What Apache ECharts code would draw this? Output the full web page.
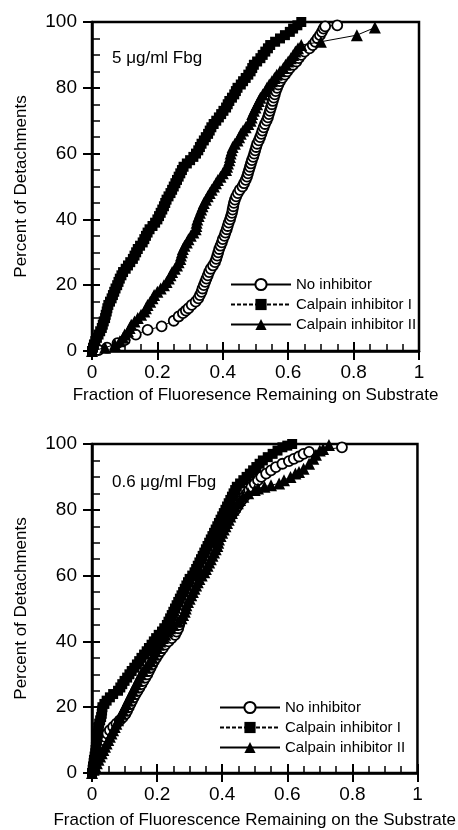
<!DOCTYPE html>
<html><head><meta charset="utf-8">
<script src="https://cdn.jsdelivr.net/npm/echarts/dist/echarts.min.js"></script>
<style>html,body{margin:0;padding:0;background:#fff}#c{width:458px;height:830px}</style>
</head><body><div id="c"></div><script>
// ---- data (x = fraction of fluorescence remaining, y = percent of detachments) ----
var seriesNames = ['No inhibitor', 'Calpain inhibitor I', 'Calpain inhibitor II'];
var panelLabels = ['5 \u03bcg/ml Fbg', '0.6 \u03bcg/ml Fbg'];
var xTitles = ['Fraction of Fluoresence Remaining on Substrate', 'Fraction of Fluorescence Remaining on the Substrate'];
var yTitle = 'Percent of Detachments';
var xTickValues = [0, 0.2, 0.4, 0.6, 0.8, 1];
var yTickValues = [0, 20, 40, 60, 80, 100];

// top panel: 5 ug/ml Fbg
var topNoInhibitor = [[0.02,0.3],[0.046,1],[0.078,2.4],[0.10,3.3],[0.134,5],[0.17,6.4],[0.213,7.5],[0.25,9.2],[0.265,10.5],[0.278,11.5],[0.287,12.3],[0.295,13],[0.305,14],[0.317,15],[0.325,16],[0.33,17],[0.335,18],[0.338,19],[0.342,20],[0.346,21],[0.35,22],[0.354,23],[0.358,24],[0.363,25],[0.37,26],[0.376,27],[0.38,28],[0.383,29],[0.386,30],[0.389,31],[0.393,32],[0.397,33],[0.40,34],[0.405,35],[0.408,36],[0.412,37],[0.415,38],[0.418,39],[0.422,40],[0.425,41],[0.428,42],[0.43,43],[0.432,44],[0.434,45],[0.437,46],[0.441,47],[0.446,48],[0.452,49],[0.46,50],[0.465,51],[0.47,52],[0.474,53],[0.477,54],[0.48,55],[0.483,56],[0.486,57],[0.489,58],[0.493,59],[0.496,60],[0.499,61],[0.502,62],[0.505,63],[0.51,64],[0.514,65],[0.518,66],[0.521,67],[0.525,68],[0.529,69],[0.534,70],[0.538,71],[0.541,72],[0.544,73],[0.547,74],[0.55,75],[0.553,76],[0.556,77],[0.559,78],[0.562,79],[0.566,80],[0.57,81],[0.575,82],[0.582,83],[0.59,84],[0.597,85],[0.605,86],[0.615,87],[0.625,88],[0.632,89],[0.64,90],[0.65,91],[0.665,92],[0.675,93],[0.683,94],[0.69,95],[0.697,96],[0.703,97],[0.708,98],[0.713,98.7],[0.75,99]];
var topCalpainI = [[0,0],[0.003,1],[0.006,2],[0.01,3],[0.015,4],[0.02,5],[0.025,6],[0.03,7],[0.033,8],[0.036,9],[0.04,10],[0.042,11],[0.045,12],[0.047,13],[0.05,14],[0.055,15],[0.06,16],[0.064,17],[0.068,18],[0.072,19],[0.077,20],[0.081,21],[0.085,22],[0.09,23],[0.095,24],[0.103,25],[0.11,26],[0.117,27],[0.125,28],[0.13,29],[0.135,30],[0.14,31],[0.147,32],[0.155,33],[0.16,34],[0.165,35],[0.17,36],[0.176,37],[0.185,38],[0.193,39],[0.20,40],[0.205,41],[0.21,42],[0.215,43],[0.22,44],[0.224,45],[0.228,46],[0.234,47],[0.24,48],[0.245,49],[0.25,50],[0.255,51],[0.26,52],[0.265,53],[0.27,54],[0.275,55],[0.28,56],[0.29,57],[0.30,58],[0.31,59],[0.318,60],[0.325,61],[0.33,62],[0.335,63],[0.342,64],[0.348,65],[0.355,66],[0.36,67],[0.365,68],[0.372,69],[0.38,70],[0.388,71],[0.395,72],[0.402,73],[0.41,74],[0.415,75],[0.42,76],[0.428,77],[0.435,78],[0.44,79],[0.445,80],[0.455,81],[0.462,82],[0.47,83],[0.478,84],[0.485,85],[0.49,86],[0.495,87],[0.505,88],[0.515,89],[0.522,90],[0.53,91],[0.538,92],[0.545,93],[0.56,94],[0.575,95],[0.59,96],[0.605,97],[0.615,98],[0.628,99],[0.64,100]];
var topCalpainII = [[0,0],[0.04,1],[0.07,2],[0.085,3],[0.095,4],[0.10,5],[0.11,6],[0.115,7],[0.12,8],[0.13,9],[0.14,10],[0.15,11],[0.16,12],[0.165,13],[0.17,14],[0.178,15],[0.185,16],[0.19,17],[0.20,18],[0.21,19],[0.22,20],[0.228,21],[0.235,22],[0.24,23],[0.245,24],[0.253,25],[0.26,26],[0.265,27],[0.27,28],[0.272,29],[0.275,30],[0.278,31],[0.283,32],[0.29,33],[0.295,34],[0.302,35],[0.31,36],[0.317,37],[0.319,38],[0.32,39],[0.322,40],[0.326,41],[0.33,42],[0.334,43],[0.338,44],[0.342,45],[0.348,46],[0.354,47],[0.36,48],[0.366,49],[0.373,50],[0.379,51],[0.385,52],[0.393,53],[0.40,54],[0.41,55],[0.413,56],[0.416,57],[0.42,58],[0.422,59],[0.424,60],[0.427,61],[0.43,62],[0.437,63],[0.445,64],[0.45,65],[0.455,66],[0.462,67],[0.47,68],[0.478,69],[0.485,70],[0.488,71],[0.49,72],[0.495,73],[0.50,74],[0.505,75],[0.51,76],[0.515,77],[0.522,78],[0.53,79],[0.535,80],[0.542,81],[0.55,82],[0.558,83],[0.565,84],[0.575,85],[0.585,86],[0.592,87],[0.60,88],[0.608,89],[0.615,90],[0.622,91],[0.63,92],[0.64,93],[0.70,94],[0.81,96],[0.865,98.3]];

// bottom panel: 0.6 ug/ml Fbg
var botNoInhibitor = [[0.005,1],[0.008,2],[0.01,3],[0.013,4],[0.016,5],[0.02,6],[0.023,7],[0.027,8],[0.03,9],[0.035,10],[0.04,11],[0.047,12],[0.055,13],[0.065,14],[0.075,15],[0.085,16],[0.095,17],[0.103,18],[0.108,19],[0.113,20],[0.118,21],[0.123,22],[0.128,23],[0.134,24],[0.14,25],[0.146,26],[0.152,27],[0.158,28],[0.164,29],[0.17,30],[0.175,31],[0.18,32],[0.185,33],[0.19,34],[0.197,35],[0.203,36],[0.21,37],[0.218,38],[0.225,39],[0.235,40],[0.245,41],[0.255,42],[0.26,43],[0.265,44],[0.268,45],[0.27,46],[0.273,47],[0.275,48],[0.277,49],[0.278,50],[0.282,51],[0.285,52],[0.29,53],[0.295,54],[0.3,55],[0.305,56],[0.308,57],[0.312,58],[0.316,59],[0.32,60],[0.327,61],[0.333,62],[0.34,63],[0.347,64],[0.353,65],[0.358,66],[0.363,67],[0.368,68],[0.373,69],[0.378,70],[0.383,71],[0.388,72],[0.393,73],[0.398,74],[0.405,75],[0.41,76],[0.417,77],[0.425,78],[0.432,79],[0.44,80],[0.446,81],[0.452,82],[0.46,83],[0.468,84],[0.476,85],[0.483,86],[0.49,87],[0.5,88],[0.51,89],[0.52,90],[0.535,91],[0.55,92],[0.565,93],[0.585,94],[0.605,94.8],[0.62,95.5],[0.636,96.2],[0.65,97],[0.667,97.6],[0.768,99]];
var botCalpainI = [[0,0],[0.002,1],[0.003,2],[0.005,3],[0.006,4],[0.008,5],[0.01,6],[0.011,7],[0.012,8],[0.014,9],[0.015,10],[0.017,11],[0.018,12],[0.019,13],[0.02,14],[0.022,15],[0.025,16],[0.028,17],[0.03,18],[0.031,19],[0.032,20],[0.038,21],[0.045,22],[0.055,23],[0.065,24],[0.08,25],[0.087,26],[0.093,27],[0.10,28],[0.108,29],[0.115,30],[0.122,31],[0.13,32],[0.138,33],[0.145,34],[0.152,35],[0.16,36],[0.168,37],[0.175,38],[0.183,39],[0.19,40],[0.197,41],[0.205,42],[0.215,43],[0.222,44],[0.23,45],[0.235,46],[0.24,47],[0.245,48],[0.25,49],[0.255,50],[0.26,51],[0.265,52],[0.27,53],[0.275,54],[0.28,55],[0.285,56],[0.29,57],[0.295,58],[0.30,59],[0.308,60],[0.315,61],[0.32,62],[0.325,63],[0.33,64],[0.335,65],[0.34,66],[0.345,67],[0.35,68],[0.355,69],[0.36,70],[0.365,71],[0.37,72],[0.375,73],[0.38,74],[0.385,75],[0.39,76],[0.395,77],[0.40,78],[0.405,79],[0.41,80],[0.415,81],[0.42,82],[0.425,83],[0.43,84],[0.435,85],[0.44,86],[0.445,87],[0.455,88],[0.465,89],[0.475,90],[0.485,91],[0.495,92],[0.505,93],[0.515,94],[0.525,95],[0.54,96],[0.555,97],[0.57,98],[0.585,99],[0.6,99.5],[0.615,100]];
var botCalpainII = [[0,0],[0.005,1],[0.01,2],[0.015,3],[0.02,4],[0.025,5],[0.03,6],[0.035,7],[0.04,8],[0.045,9],[0.05,10],[0.055,11],[0.06,12],[0.065,13],[0.07,14],[0.075,15],[0.08,16],[0.085,17],[0.09,18],[0.095,19],[0.10,20],[0.105,21],[0.11,22],[0.115,23],[0.12,24],[0.125,25],[0.13,26],[0.135,27],[0.14,28],[0.145,29],[0.15,30],[0.157,31],[0.165,32],[0.172,33],[0.18,34],[0.185,35],[0.19,36],[0.195,37],[0.20,38],[0.205,39],[0.21,40],[0.218,41],[0.225,42],[0.232,43],[0.24,44],[0.25,45],[0.265,46],[0.275,47],[0.28,48],[0.285,49],[0.288,50],[0.29,51],[0.295,52],[0.30,53],[0.305,54],[0.31,55],[0.315,56],[0.32,57],[0.325,58],[0.33,59],[0.337,60],[0.345,61],[0.35,62],[0.355,63],[0.36,64],[0.365,65],[0.37,66],[0.375,67],[0.38,68],[0.385,69],[0.388,70],[0.39,71],[0.395,72],[0.40,73],[0.405,74],[0.41,75],[0.415,76],[0.42,77],[0.425,78],[0.43,79],[0.435,80],[0.44,81],[0.448,82],[0.455,83],[0.465,84],[0.48,85],[0.50,86],[0.51,86.5],[0.53,87],[0.55,87.5],[0.575,88],[0.59,89],[0.61,90],[0.625,91],[0.636,91.5],[0.65,92.5],[0.667,94],[0.68,95.5],[0.688,96.7],[0.70,98],[0.71,98.5],[0.728,99.7]];

// ---- chart ----
var FONT = '"Liberation Sans", Arial, sans-serif';
var grids = [
  {left: 92, top: 22, width: 327, height: 329},
  {left: 92, top: 444, width: 327, height: 329}
];
var xStep = xTickValues[1] - xTickValues[0];
var yStep = yTickValues[1] - yTickValues[0];

function xAxes(g, title, gap) {
  return [
    {gridIndex: g, type: 'value', position: 'bottom', min: xTickValues[0], max: xTickValues[xTickValues.length - 1], interval: xStep,
     name: title, nameLocation: 'middle', nameGap: gap, nameTextStyle: {fontFamily: FONT, fontSize: 17, color: '#000'},
     axisLine: {show: true, lineStyle: {color: '#000', width: 2.5}},
     axisTick: {show: true, inside: false, length: 9, lineStyle: {color: '#000', width: 2}},
     axisLabel: {show: true, margin: 12, fontFamily: FONT, fontSize: 19, color: '#000'},
     splitLine: {show: false}},
    {gridIndex: g, type: 'value', position: 'bottom', min: xTickValues[0], max: xTickValues[xTickValues.length - 1], interval: xStep,
     axisLine: {show: false}, axisLabel: {show: false}, splitLine: {show: false},
     axisTick: {show: true, inside: true, length: 9, lineStyle: {color: '#000', width: 2}},
     minorTick: {show: true, splitNumber: 4, length: 7, lineStyle: {color: '#000', width: 1.5}}}
  ];
}
function yAxes(g) {
  return [
    {gridIndex: g, type: 'value', position: 'left', min: yTickValues[0], max: yTickValues[yTickValues.length - 1], interval: yStep,
     name: yTitle, nameLocation: 'middle', nameGap: 62, nameRotate: 90, nameTextStyle: {fontFamily: FONT, fontSize: 17, color: '#000'},
     axisLine: {show: true, lineStyle: {color: '#000', width: 2.5}},
     axisTick: {show: true, inside: false, length: 9, lineStyle: {color: '#000', width: 2}},
     axisLabel: {show: true, margin: 15, fontFamily: FONT, fontSize: 19, color: '#000'},
     splitLine: {show: false}},
    {gridIndex: g, type: 'value', position: 'left', min: yTickValues[0], max: yTickValues[yTickValues.length - 1], interval: yStep,
     axisLine: {show: false}, axisLabel: {show: false}, splitLine: {show: false},
     axisTick: {show: true, inside: true, length: 8, lineStyle: {color: '#000', width: 2}},
     minorTick: {show: true, splitNumber: 4, length: 8, lineStyle: {color: '#000', width: 1.5}}}
  ];
}

function mk(name, data, g, sym) {
  var s = {
    name: name, type: 'line', data: data, xAxisIndex: g * 2, yAxisIndex: g * 2,
    showAllSymbol: true, clip: false, animation: false,
    lineStyle: {color: '#000', width: 1}
  };
  if (sym === 'circle') {
    s.symbol = 'circle'; s.symbolSize = 10; s.z = 2;
    s.itemStyle = {color: '#fff', borderColor: '#000', borderWidth: 1.8};
  } else if (sym === 'rect') {
    s.symbol = 'rect'; s.symbolSize = 10; s.z = 3;
    s.itemStyle = {color: '#000', borderColor: '#000', borderWidth: 0};
    s.lineStyle.type = [4, 2];
  } else {
    s.symbol = 'triangle'; s.symbolSize = 12; s.z = 4;
    s.itemStyle = {color: '#000', borderColor: '#000', borderWidth: 0};
  }
  return s;
}

var legendBase = {
  orient: 'vertical', itemWidth: 60, itemHeight: 14, itemGap: 5,
  textStyle: {fontFamily: FONT, fontSize: 15, color: '#000'},
  lineStyle: {width: 2}, data: seriesNames, selectedMode: false
};

var option = {
  backgroundColor: '#fff',
  animation: false,
  grid: grids.map(function (g) {
    return Object.assign({show: true, borderColor: '#000', borderWidth: 2.5, backgroundColor: 'transparent', containLabel: false}, g);
  }),
  xAxis: xAxes(0, xTitles[0], 36).concat(xAxes(1, xTitles[1], 39)),
  yAxis: yAxes(0).concat(yAxes(1)),
  legend: [
    Object.assign({left: 225, top: 272}, legendBase),
    Object.assign({left: 214, top: 695}, legendBase)
  ],
  graphic: [
    {type: 'text', left: 112, top: 50, style: {text: panelLabels[0], font: '17px ' + FONT, fill: '#000'}},
    {type: 'text', left: 112, top: 474, style: {text: panelLabels[1], font: '17px ' + FONT, fill: '#000'}}
  ],
  series: [
    mk(seriesNames[0], topNoInhibitor, 0, 'circle'),
    mk(seriesNames[1], topCalpainI, 0, 'rect'),
    mk(seriesNames[2], topCalpainII, 0, 'triangle'),
    mk(seriesNames[0], botNoInhibitor, 1, 'circle'),
    mk(seriesNames[1], botCalpainI, 1, 'rect'),
    mk(seriesNames[2], botCalpainII, 1, 'triangle')
  ]
};
var chart = echarts.init(document.getElementById('c'), null, {renderer: 'canvas'});
chart.setOption(option);
</script></body></html>
